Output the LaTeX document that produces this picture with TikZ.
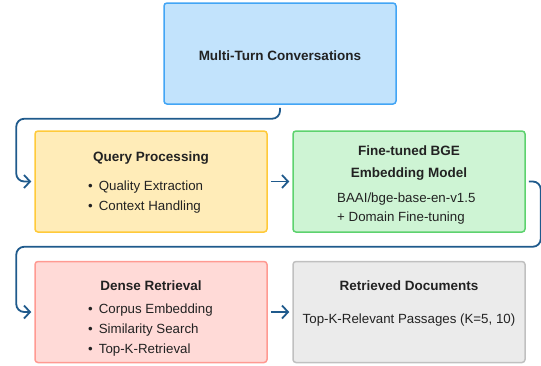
\documentclass[tikz,border=0pt]{standalone}
\usepackage{fontspec}
\setmainfont{Liberation Sans}
\usetikzlibrary{arrows.meta}
\definecolor{txt}{HTML}{222222}
\definecolor{conncol}{HTML}{1F5A8C}
\definecolor{bluefill}{HTML}{C2E3FC}
\definecolor{blueline}{HTML}{42A5F5}
\definecolor{yelfill}{HTML}{FFECB8}
\definecolor{yelline}{HTML}{FFCA3A}
\definecolor{grnfill}{HTML}{CEF4D4}
\definecolor{grnline}{HTML}{5DD26E}
\definecolor{redfill}{HTML}{FFDAD7}
\definecolor{redline}{HTML}{FF9A92}
\definecolor{gryfill}{HTML}{EBEBEB}
\definecolor{gryline}{HTML}{C0C0C0}
\tikzset{
  box/.style={draw, line width=1.5pt, rounded corners=3pt, minimum width=232pt, minimum height=101pt, inner sep=0pt},
  ttl/.style={anchor=base, text=txt, font=\fontsize{13.5}{16}\selectfont\bfseries, inner sep=0pt},
  body/.style={anchor=base west, text=txt, font=\fontsize{13.3}{15}\selectfont, inner sep=0pt},
  bodyc/.style={anchor=base, text=txt, font=\fontsize{13.3}{15}\selectfont, inner sep=0pt},
  conn/.style={draw=conncol, line width=1.8pt, rounded corners=8pt, -{Straight Barb[length=6pt,width=13pt,line width=1.8pt]}},
}
\newcommand{\bul}{\textbullet\hspace{6pt}}
\begin{document}
\begin{tikzpicture}[x=1pt,y=-1pt]
\useasboundingbox (0,0) rectangle (541,365);
% boxes
\node[box, fill=bluefill, draw=blueline] (top) at (280,53.5) {};
\node[box, fill=yelfill, draw=yelline] (q) at (151,181.5) {};
\node[box, fill=grnfill, draw=grnline] (g) at (409,181.5) {};
\node[box, fill=redfill, draw=redline] (r) at (151,312) {};
\node[box, fill=gryfill, draw=gryline] (d) at (409,312) {};
% texts
\node[ttl] (t0) at (280,60) {Multi-Turn Conversations};
\node[ttl] (t1) at (151,161) {Query Processing};
\node[body] (t1a) at (88,190) {\bul Quality Extraction};
\node[body] (t1b) at (88,210) {\bul Context Handling};
\node[ttl] (t2) at (409,155) {Fine-tuned BGE};
\node[ttl] (t2b) at (409,177) {Embedding Model};
\node[body] (t2c) at (337,202) {BAAI/bge-base-en-v1.5};
\node[body] (t2d) at (337,221) {+ Domain Fine-tuning};
\node[ttl] (t3) at (151,290) {Dense Retrieval};
\node[body] (t3a) at (88,313) {\bul Corpus Embedding};
\node[body] (t3b) at (88,333) {\bul Similarity Search};
\node[body] (t3c) at (88,353) {\bul Top-K-Retrieval};
\node[ttl] (t4) at (409,290) {Retrieved Documents};
\node[bodyc] (t4a) at (409,323) {Top-K-Relevant Passages (K=5, 10)};
% connectors
\draw[conn] ([yshift=-3pt]top.south) -- ++(0,-11pt) -| ([xshift=-18pt]q.west) -- ([xshift=-3pt]q.west);
\draw[conn] ([xshift=3pt]q.east) -- ([xshift=-3pt]g.west);
\draw[conn] ([xshift=3pt]g.east) -- ++(12pt,0) |- ([xshift=-18pt,yshift=14pt]r.north west) |- ([xshift=-3pt]r.west);
\draw[conn] ([xshift=3pt]r.east) -- ([xshift=-3pt]d.west);
\end{tikzpicture}
\end{document}
